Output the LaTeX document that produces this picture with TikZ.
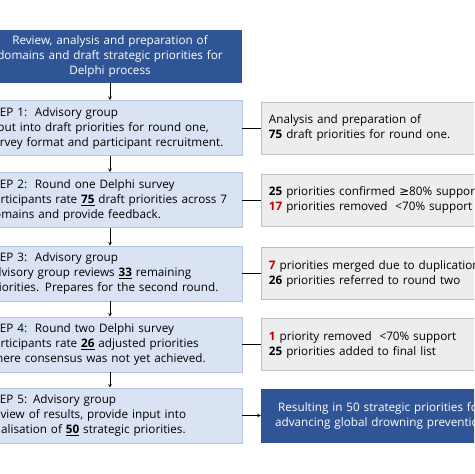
\documentclass[tikz,border=0pt]{standalone}
\usepackage{fontspec}
\setmainfont{Open Sans}
\newfontfamily\symfont{DejaVu Sans}
\definecolor{dblue}{HTML}{2F5597}
\definecolor{lblue}{HTML}{DAE3F3}
\definecolor{lbluedraw}{HTML}{B4C3DE}
\definecolor{lgray}{HTML}{EDEDED}
\definecolor{lgraydraw}{HTML}{BEBEBE}
\definecolor{dred}{HTML}{C00000}
\newcommand{\unum}[1]{\underline{\textbf{#1}}}
\newcommand{\rnum}[1]{\textcolor{dred}{\textbf{#1}}}

\begin{document}
\begin{tikzpicture}[x=0.03cm, y=-0.03cm,
    every node/.style={font=\fontsize{10}{12.8}\selectfont},
    bluebox/.style={fill=dblue, text=white, align=center, inner xsep=0.27cm},
    stepbox/.style={draw=lbluedraw, fill=lblue, line width=0.6pt, align=left,
        text width=7.38cm, inner xsep=0.27cm, minimum height=1.65cm},
    notebox/.style={draw=lgraydraw, fill=lgray, line width=0.6pt, align=left,
        text width=7.29cm, inner xsep=0.24cm, minimum height=1.56cm}]
    \useasboundingbox (0,0) rectangle (474,474);
    \clip (0,0) rectangle (474,474);
    \fill[white] (0,0) rectangle (474,474);

    % Left column
    \node[bluebox, text width=7.38cm, minimum height=1.59cm] (top) at (110,56.5)
        {Review, analysis and preparation of\\domains and draft strategic priorities for\\Delphi process};
    \node[stepbox] (s1) at (110,128)
        {STEP 1:\ \ Advisory group\\Input into draft priorities for round one,\\survey format and participant recruitment.};
    \node[stepbox] (s2) at (110,200)
        {STEP 2:\ \ Round one Delphi survey\\Participants rate \unum{75} draft priorities across 7\\domains and provide feedback.};
    \node[stepbox] (s3) at (110,273.5)
        {STEP 3:\ \ Advisory group\\Advisory group reviews \unum{33} remaining\\priorities. Prepares for the second round.};
    \node[stepbox] (s4) at (110,344.5)
        {STEP 4:\ \ Round two Delphi survey\\Participants rate \unum{26} adjusted priorities\\where consensus was not yet achieved.};
    \node[stepbox] (s5) at (110,415.5)
        {STEP 5: Advisory group\\Review of results, provide input into\\finalisation of \unum{50} strategic priorities.};

    % Right column
    \node[notebox] (r1) at (390.5,128)
        {Analysis and preparation of\\\textbf{75} draft priorities for round one.};
    \node[notebox] (r2) at (390.5,200)
        {\textbf{25} priorities confirmed {\symfont ≥}80\% support\\\rnum{17} priorities removed\ \ <70\% support};
    \node[notebox] (r3) at (390.5,273.5)
        {\rnum{7} priorities merged due to duplication\\\textbf{26} priorities referred to round two};
    \node[notebox] (r4) at (390.5,344.5)
        {\rnum{1} priority removed\ \ <70\% support\\\textbf{25} priorities added to final list};
    \node[bluebox, text width=6.69cm, inner xsep=0.24cm, minimum height=1.62cm] (res) at (380.5,415.5)
        {Resulting in 50 strategic priorities for\\advancing global drowning prevention};

    % Arrows
    \draw[-stealth] (top) -- (s1);
    \draw[-stealth] (s1) -- (s2);
    \draw[-stealth] (s2) -- (s3);
    \draw[-stealth] (s3) -- (s4);
    \draw[-stealth] (s4) -- (s5);
    \draw (s1) -- (r1);
    \draw (s2) -- (r2);
    \draw (s3) -- (r3);
    \draw (s4) -- (r4);
    \draw[-stealth] (s5) -- (res);
\end{tikzpicture}
\end{document}
